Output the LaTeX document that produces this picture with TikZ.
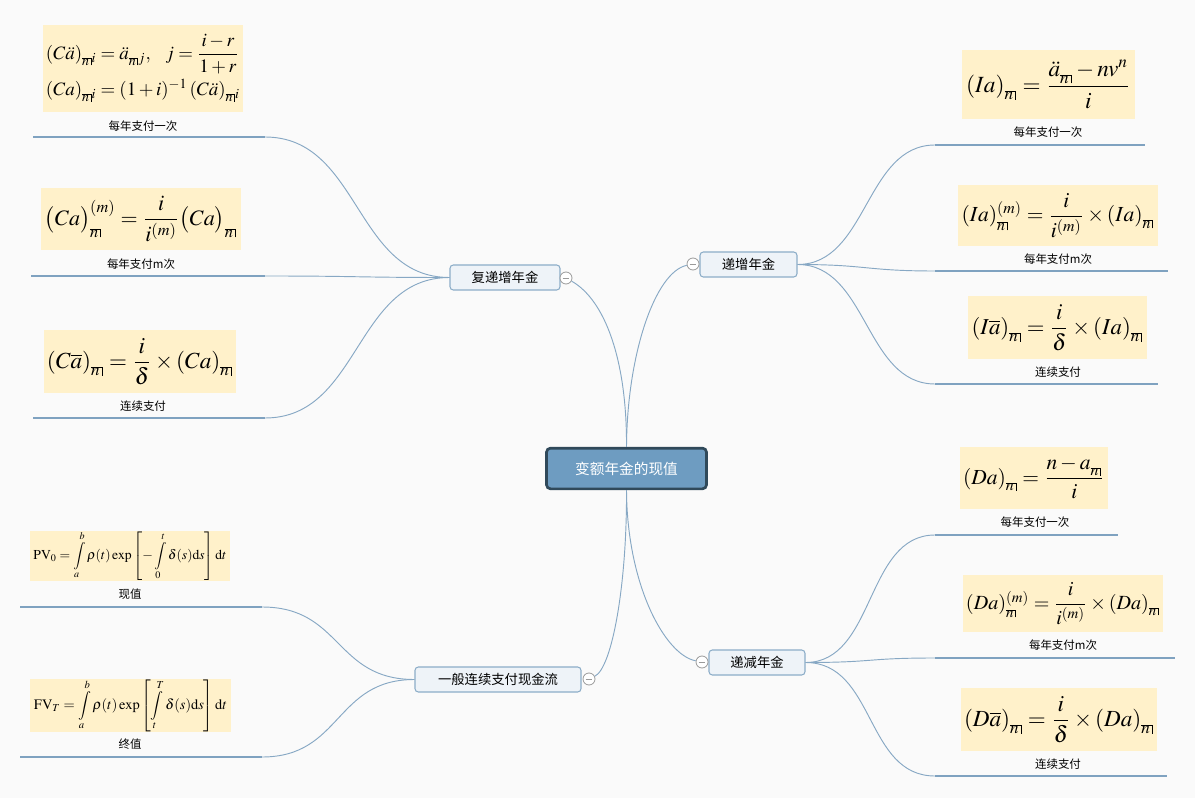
\documentclass[tikz,border=0pt]{standalone}
\usepackage{amsmath}
\usepackage{mathptmx}
\usepackage{fontspec}
\newfontfamily\cjk{Noto Sans CJK SC}
\definecolor{bgc}{HTML}{FAFAFA}
\definecolor{conc}{HTML}{87A8C4}
\definecolor{linec}{HTML}{7FA2C0}
\definecolor{brfill}{HTML}{EEF3F8}
\definecolor{brdraw}{HTML}{8CADC8}
\definecolor{cfill}{HTML}{6E9CC1}
\definecolor{cdraw}{HTML}{30495A}
\definecolor{fbg}{HTML}{FFF1CA}
\definecolor{kdraw}{HTML}{9A9A9A}
\newcommand\angl[1]{\lower1.5pt\vbox{\hrule height .5pt\hbox{$\scriptstyle #1\,$\vrule width .5pt}}}
\newcommand\fml[2]{\resizebox{\dimexpr #1pt*3/4\relax}{!}{#2}}
\tikzset{
  fb/.style 2 args={fill=fbg, minimum width=#1*0.75pt, minimum height=#2*0.75pt, inner sep=0pt},
  lab/.style={font=\cjk\fontsize{8.6}{10}\selectfont, inner sep=0pt},
  br/.style 2 args={draw=brdraw, fill=brfill, rounded corners=2.5pt, line width=0.8pt,
     minimum width=#1*0.75pt, minimum height=#2*0.75pt, inner sep=0pt, font=\cjk\fontsize{10}{12}\selectfont},
  ctr/.style={draw=cdraw, fill=cfill, rounded corners=3pt, line width=2pt, text=white,
     minimum width=120pt, minimum height=30.5pt, inner sep=0pt, font=\cjk\fontsize{11}{13}\selectfont},
  knob/.style={circle, draw=kdraw, fill=white, line width=0.6pt, minimum size=9pt, inner sep=0pt,
     path picture={\draw[kdraw, line width=0.6pt] ([xshift=-2.6pt]path picture bounding box.center) -- ([xshift=2.6pt]path picture bounding box.center);}},
  conn/.style={draw=conc, line width=0.7pt},
  uline/.style={draw=linec, line width=0.8pt},
}
\begin{document}
\begin{tikzpicture}[x=0.75pt,y=-0.75pt]
\useasboundingbox (0,0) rectangle (1195,798);
\fill[bgc] (0,0) rectangle (1195,798);

% center
\node[ctr] (c) at (626.5,468.5) {变额年金的现值};

% branch nodes
\node[br={110}{25}] (b1) at (505,277.5) {复递增年金};
\node[knob] (k1) at (566,278) {};
\node[br={97}{25}] (b2) at (748.5,264.5) {递增年金};
\node[knob] (k2) at (693,264) {};
\node[br={96}{25}] (b3) at (757,662.5) {递减年金};
\node[knob] (k3) at (702,662) {};
\node[br={166}{25}] (b4) at (498,679.5) {一般连续支付现金流};
\node[knob] (k4) at (589,679) {};

% center connectors
\draw[conn] (c.north) .. controls (627,360) and (605,300) .. (k1);
\draw[conn] (c.north) .. controls (627,355) and (655,272) .. (k2);
\draw[conn] (c.south) .. controls (627,585) and (665,655) .. (k3);
\draw[conn] (c.south) .. controls (627,585) and (612,668) .. (k4);

% ---------- left upper leaves ----------
\node[fb={200}{87}] (f1) at (143,68.5) {\fml{194}{$\begin{array}{@{}l@{}}
 (C\ddot a)_{\angl{n}i}=\ddot a_{\angl{n}j},\ \ j=\dfrac{i-r}{1+r}\\[7pt]
 (Ca)_{\angl{n}i}=(1+i)^{-1}\,(C\ddot a)_{\angl{n}i}\end{array}$}};
\node[lab] (t1) at (143,126) {每年支付一次};
\coordinate (u1a) at (33,137); \coordinate (u1b) at (265,137);
\draw[uline] (u1a) -- (u1b);
\draw[conn] (b1.west) .. controls +(-95,0) and +(95,0) .. (u1b);

\node[fb={200}{62}] (f2) at (141,219) {\fml{192}{$\big(Ca\big)^{(m)}_{\angl{n}}=\dfrac{i}{i^{(m)}}\big(Ca\big)_{\angl{n}}$}};
\node[lab] (t2) at (141,264) {每年支付m次};
\coordinate (u2a) at (31,276); \coordinate (u2b) at (265,276);
\draw[uline] (u2a) -- (u2b);
\draw[conn] (b1.west) .. controls +(-95,0) and +(95,0) .. (u2b);

\node[fb={192}{63}] (f3) at (140,361.5) {\fml{186}{$(C\overline{a})_{\angl{n}}=\dfrac{i}{\delta}\times(Ca)_{\angl{n}}$}};
\node[lab] (t3) at (143,406) {连续支付};
\coordinate (u3a) at (33,418); \coordinate (u3b) at (265,418);
\draw[uline] (u3a) -- (u3b);
\draw[conn] (b1.west) .. controls +(-95,0) and +(95,0) .. (u3b);

% ---------- left lower leaves ----------
\node[fb={200}{50}] (f4) at (130,556) {\fml{193}{$\displaystyle\mathrm{PV}_0=\int\limits_a^b\rho(t)\exp\left[-\int\limits_0^t\delta(s)\mathrm{d}s\right]\mathrm{d}t$}};
\node[lab] (t4) at (130,594) {现值};
\coordinate (u4a) at (20,607); \coordinate (u4b) at (262,607);
\draw[uline] (u4a) -- (u4b);
\draw[conn] (b4.west) .. controls +(-80,0) and +(80,0) .. (u4b);

\node[fb={201}{51}] (f5) at (130.5,705.5) {\fml{193}{$\displaystyle\mathrm{FV}_T=\int\limits_a^b\rho(t)\exp\left[\int\limits_t^T\delta(s)\mathrm{d}s\right]\mathrm{d}t$}};
\node[lab] (t5) at (130,744) {终值};
\coordinate (u5a) at (20,757); \coordinate (u5b) at (262,757);
\draw[uline] (u5a) -- (u5b);
\draw[conn] (b4.west) .. controls +(-80,0) and +(80,0) .. (u5b);

% ---------- right upper leaves ----------
\node[fb={173}{69}] (f6) at (1048.5,84.5) {\fml{165}{$(Ia)_{\angl{n}}=\dfrac{\ddot a_{\angl{n}}-nv^n}{i}$}};
\node[lab] (t6) at (1048,132) {每年支付一次};
\coordinate (u6a) at (935,145); \coordinate (u6b) at (1145,145);
\draw[uline] (u6a) -- (u6b);
\draw[conn] (b2.east) .. controls +(70,0) and +(-70,0) .. (u6a);

\node[fb={200}{61}] (f7) at (1058,215.5) {\fml{193}{$(Ia)^{(m)}_{\angl{n}}=\dfrac{i}{i^{(m)}}\times(Ia)_{\angl{n}}$}};
\node[lab] (t7) at (1058,259) {每年支付m次};
\coordinate (u7a) at (935,271); \coordinate (u7b) at (1168,271);
\draw[uline] (u7a) -- (u7b);
\draw[conn] (b2.east) .. controls +(70,0) and +(-70,0) .. (u7a);

\node[fb={179}{63}] (f8) at (1057.5,327.5) {\fml{172}{$(I\overline{a})_{\angl{n}}=\dfrac{i}{\delta}\times(Ia)_{\angl{n}}$}};
\node[lab] (t8) at (1058,372) {连续支付};
\coordinate (u8a) at (935,384); \coordinate (u8b) at (1158,384);
\draw[uline] (u8a) -- (u8b);
\draw[conn] (b2.east) .. controls +(70,0) and +(-70,0) .. (u8a);

% ---------- right lower leaves ----------
\node[fb={148}{62}] (f9) at (1034,478) {\fml{142}{$(Da)_{\angl{n}}=\dfrac{n-a_{\angl{n}}}{i}$}};
\node[lab] (t9) at (1035,522) {每年支付一次};
\coordinate (u9a) at (935,535); \coordinate (u9b) at (1118,535);
\draw[uline] (u9a) -- (u9b);
\draw[conn] (b3.east) .. controls +(70,0) and +(-70,0) .. (u9a);

\node[fb={200}{57}] (f10) at (1063,603.5) {\fml{194}{$(Da)^{(m)}_{\angl{n}}=\dfrac{i}{i^{(m)}}\times(Da)_{\angl{n}}$}};
\node[lab] (t10) at (1063,645) {每年支付m次};
\coordinate (u10a) at (935,658); \coordinate (u10b) at (1175,658);
\draw[uline] (u10a) -- (u10b);
\draw[conn] (b3.east) .. controls +(70,0) and +(-70,0) .. (u10a);

\node[fb={196}{63}] (f11) at (1059,719.5) {\fml{190}{$(D\overline{a})_{\angl{n}}=\dfrac{i}{\delta}\times(Da)_{\angl{n}}$}};
\node[lab] (t11) at (1058,764) {连续支付};
\coordinate (u11a) at (935,776); \coordinate (u11b) at (1167,776);
\draw[uline] (u11a) -- (u11b);
\draw[conn] (b3.east) .. controls +(70,0) and +(-70,0) .. (u11a);
\end{tikzpicture}
\end{document}
